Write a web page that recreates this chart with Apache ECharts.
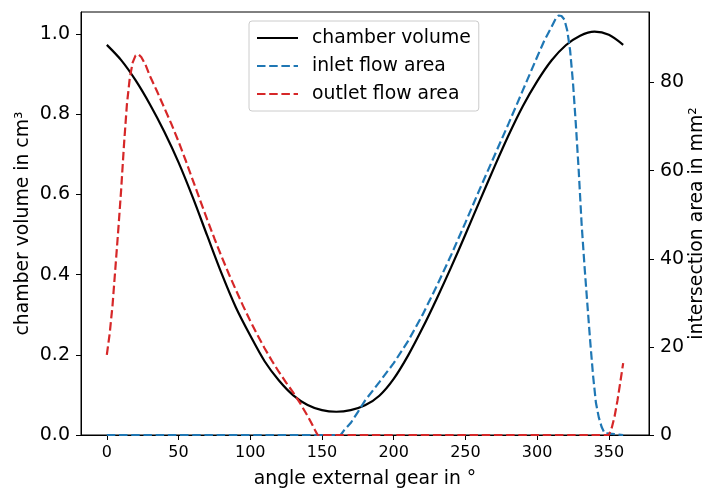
<!DOCTYPE html>
<html><head><meta charset="utf-8">
<script src="https://cdn.jsdelivr.net/npm/echarts@6/dist/echarts.min.js"></script>
<style>html,body{margin:0;padding:0;background:#fff}#c{width:705px;height:489px}</style>
</head><body><div id="c"></div>
<script>
const angleVolume = [0,10,20,30,40,50,60,70,80,90,100,110,120,130,140,150,160,170,180,190,200,210,220,230,240,250,260,270,280,290,300,310,320,330,340,350,360];
const chamberVolume = [0.973,0.935,0.885,0.825,0.757,0.680,0.592,0.497,0.403,0.318,0.248,0.184,0.136,0.099,0.075,0.062,0.058,0.062,0.074,0.098,0.140,0.198,0.266,0.340,0.418,0.500,0.584,0.667,0.747,0.820,0.882,0.934,0.972,0.996,1.006,0.998,0.973];

const angleInlet = [0,163,165,170,175,180,190,200,210,220,230,240,250,260,270,280,290,300,305,310,313,315,317,319,321,323,325,327,329,331,333,335,337,339,341,343,345,347,348,360];
const inletArea = [0,0,0.9,2.7,5.2,7.8,12,16.3,21.3,27.2,33.8,40.8,48.2,55.8,63.2,70.6,78.2,85.8,89.5,92.6,94.5,95.2,95.1,94.3,91.8,87.3,80,70.5,60,48,38.5,29.8,21.3,13.5,7.3,4,1.8,0.4,0,0];

const angleOutlet = [0,2,4,6,8,10,12,14,16,18,20,22,24,27,30,35,40,45,50,55,60,65,70,75,80,85,90,95,100,105,110,115,120,125,130,135,140,143,145,147,350,352,354,356,358,360];
const outletArea = [18.2,23,29.5,38,46.6,55.7,66,75,81,84.5,86.1,86.4,85.8,84,81.5,78,74.3,70.6,66.6,62.3,57.8,53.3,48.9,44.6,40.5,36.6,32.9,29.3,25.9,22.7,19.7,16.9,14.3,11.9,9.6,7.1,4.3,2.5,1.2,0,0,1.6,4.2,7.8,12,16.3];

const xTicks = [0,50,100,150,200,250,300,350];
const yLeftTicks = [0,0.2,0.4,0.6,0.8,1.0];
const yRightTicks = [0,20,40,60,80];

const FONT = 'DejaVu Sans';
const zip = (a, b) => a.map((v, i) => [v, b[i]]);

const chart = echarts.init(document.getElementById('c'), null, {renderer: 'canvas'});
chart.setOption({
  animation: false,
  backgroundColor: '#fff',
  grid: {left: 81, right: 56, top: 12, bottom: 54, outerBoundsMode: 'none', containLabel: false, show: true, borderColor: '#000', borderWidth: 1, backgroundColor: 'transparent'},
  legend: {
    left: 249, top: 21, orient: 'vertical',
    itemWidth: 41, itemHeight: 14, itemGap: 8,
    padding: [7, 8, 7, 7],
    borderColor: '#cccccc', borderWidth: 1, borderRadius: 3,
    backgroundColor: 'rgba(255,255,255,0.8)',
    itemStyle: {opacity: 0},
    textStyle: {fontFamily: FONT, fontSize: 18.8, lineHeight: 20, color: '#000', padding: [0, 0, 0, 9]},
    data: ['chamber volume', 'inlet flow area', 'outlet flow area']
  },
  xAxis: {
    type: 'value', min: -18, max: 378,
    name: 'angle external gear in °', nameLocation: 'middle', nameGap: 35, nameMoveOverlap: false,
    nameTextStyle: {fontFamily: FONT, fontSize: 18.8, color: '#000'},
    axisLine: {show: true, onZero: false, lineStyle: {color: '#000', width: 1}},
    axisTick: {show: true, inside: false, length: 5, customValues: xTicks, lineStyle: {color: '#000', width: 1}},
    axisLabel: {customValues: xTicks, margin: 10, fontFamily: FONT, fontSize: 16, color: '#000'},
    splitLine: {show: false}
  },
  yAxis: [{
    type: 'value', min: 0, max: 1.055, position: 'left',
    name: 'chamber volume in cm³', nameLocation: 'middle', nameGap: 48, nameRotate: 90, nameMoveOverlap: false,
    nameTextStyle: {fontFamily: FONT, fontSize: 18.8, color: '#000'},
    axisLine: {show: true, onZero: false, lineStyle: {color: '#000', width: 1}},
    axisTick: {show: true, inside: false, length: 5, customValues: yLeftTicks, lineStyle: {color: '#000', width: 1}},
    axisLabel: {customValues: yLeftTicks, margin: 11, fontFamily: FONT, fontSize: 19, color: '#000', formatter: v => v.toFixed(1)},
    splitLine: {show: false}
  }, {
    type: 'value', min: 0, max: 96, position: 'right',
    name: 'intersection area in mm²', nameLocation: 'middle', nameGap: 39, nameRotate: 90, nameMoveOverlap: false,
    nameTextStyle: {fontFamily: FONT, fontSize: 18.8, color: '#000'},
    axisLine: {show: true, onZero: false, lineStyle: {color: '#000', width: 1}},
    axisTick: {show: true, inside: false, length: 5, customValues: yRightTicks, lineStyle: {color: '#000', width: 1}},
    axisLabel: {customValues: yRightTicks, margin: 11, fontFamily: FONT, fontSize: 19, color: '#000'},
    splitLine: {show: false}
  }],
  series: [{
    name: 'chamber volume', type: 'line', yAxisIndex: 0, symbol: 'none', smooth: 0.3,
    data: zip(angleVolume, chamberVolume),
    lineStyle: {color: '#000000', width: 2.2}, itemStyle: {color: '#000000'}, z: 2
  }, {
    name: 'inlet flow area', type: 'line', yAxisIndex: 1, symbol: 'none',
    data: zip(angleInlet, inletArea),
    lineStyle: {color: '#1f77b4', width: 2.2, type: [8.5, 3.7]}, itemStyle: {color: '#1f77b4'}, z: 3
  }, {
    name: 'outlet flow area', type: 'line', yAxisIndex: 1, symbol: 'none',
    data: zip(angleOutlet, outletArea),
    lineStyle: {color: '#d62728', width: 2.2, type: [8.5, 3.7]}, itemStyle: {color: '#d62728'}, z: 4
  }]
});
</script>
</body></html>
